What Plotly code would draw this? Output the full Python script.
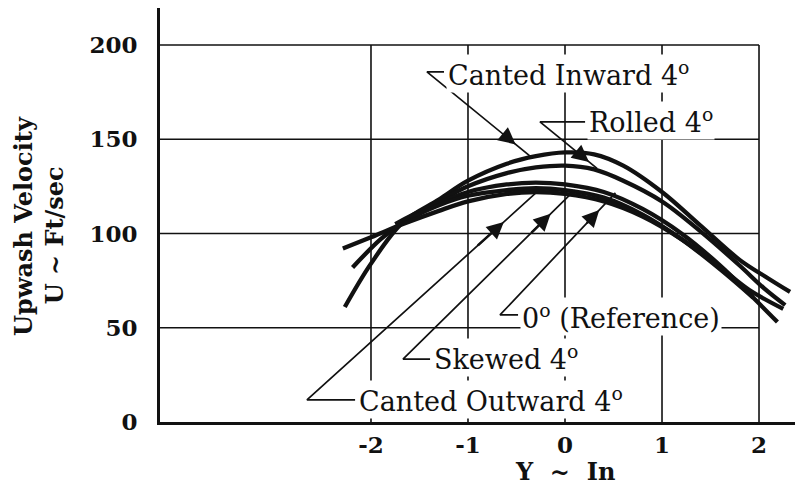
import plotly.graph_objects as go

# Spanwise position (in) and upwash velocity (ft/sec) for each configuration
y_inward = [-2.27, -2.0, -1.67, -1.3, -1.0, -0.6, -0.3, 0.0, 0.3, 0.6, 1.0, 1.4, 1.8, 2.1, 2.32]
u_inward = [61, 84, 106, 118, 128, 137, 141, 143, 142, 136, 122, 104, 86, 76, 69]

y_rolled = [-2.19, -1.9, -1.67, -1.3, -1.0, -0.6, -0.3, 0.0, 0.3, 0.6, 1.0, 1.4, 1.8, 2.05, 2.27]
u_rolled = [82, 97, 106, 117, 125, 132, 135, 136, 134, 128, 117, 101, 83, 71, 62]

y_ref = [-1.75, -1.4, -1.0, -0.6, -0.3, 0.0, 0.4, 0.8, 1.2, 1.6, 1.9, 2.19]
u_ref = [105, 114, 122, 126, 127, 126, 122, 113, 100, 83, 68, 53]

y_skewed = [-1.6, -1.3, -1.0, -0.6, -0.3, 0.0, 0.4, 0.8, 1.2, 1.6, 1.94]
u_skewed = [108, 115, 120, 123, 124, 123, 119, 110, 97, 81, 66]

y_outward = [-2.29, -2.0, -1.67, -1.3, -1.0, -0.6, -0.3, 0.0, 0.4, 0.8, 1.2, 1.6, 1.9, 2.25]
u_outward = [92, 98, 105, 112, 117, 121, 122, 121, 117, 109, 97, 82, 70, 60]

x_ticks = [-2, -1, 0, 1, 2]
x_tick_labels = ["-2", "-1", "0", "1", "2"]
y_ticks = [0, 50, 100, 150, 200]
y_tick_labels = ["0", "50", "100", "150", "200"]

X_RANGE = [-4.175, 2.371]
Y_RANGE = [0, 219.6]

INK = "#111111"
SERIF = "DejaVu Serif"
NB = "\u00a0"

fig = go.Figure()

curves = [
    ("Canted Inward 4°", y_inward, u_inward),
    ("Rolled 4°", y_rolled, u_rolled),
    ("0° (Reference)", y_ref, u_ref),
    ("Skewed 4°", y_skewed, u_skewed),
    ("Canted Outward 4°", y_outward, u_outward),
]
for name, xs, us in curves:
    fig.add_trace(go.Scatter(
        x=xs, y=us, name=name, mode="lines",
        line=dict(color=INK, width=4.3, shape="spline", smoothing=1.0),
        hoverinfo="skip",
    ))

# Grid box: horizontal lines stop at Y = 2, vertical lines stop at U = 200
shapes = []
for v in y_ticks[1:]:
    shapes.append(dict(type="line", xref="x", yref="y", x0=X_RANGE[0], x1=x_ticks[-1],
                       y0=v, y1=v, line=dict(color=INK, width=1.6), layer="below"))
for xv in x_ticks:
    shapes.append(dict(type="line", xref="x", yref="y", x0=xv, x1=xv,
                       y0=0, y1=y_ticks[-1], line=dict(color=INK, width=1.6), layer="below"))

# Callouts: label anchor, leader corner, point on the curve
callouts = [
    dict(text="Canted Inward 4<sup>o</sup>", tx=-1.227, ty=185.1, corner=(-1.423, 185.7), tip=(-0.36, 141.0)),
    dict(text="Rolled 4<sup>o</sup>", tx=0.227, ty=159.7, corner=(-0.258, 159.2), tip=(0.33, 134.5)),
    dict(text="0<sup>o</sup>" + NB + "(Reference)", tx=-0.464, ty=56.2, corner=(-0.67, 56.8), tip=(0.52, 121.5)),
    dict(text="Skewed 4<sup>o</sup>", tx=-1.371, ty=34.0, corner=(-1.67, 33.4), tip=(0.1, 123.0)),
    dict(text="Canted Outward 4<sup>o</sup>", tx=-2.144, ty=11.7, corner=(-2.66, 11.7), tip=(-0.30, 121.5)),
]

annotations = []
for c in callouts:
    cx, cy = c["corner"]
    px, py = c["tip"]
    # leader: short stub from the label, then diagonal to the curve
    fig.add_trace(go.Scatter(
        x=[c["tx"] - 0.02, cx, px], y=[cy, cy, py], mode="lines",
        line=dict(color=INK, width=1.7), hoverinfo="skip", showlegend=False,
    ))
    f = 0.86
    hx, hy = cx + f * (px - cx), cy + f * (py - cy)
    bx, by = cx + (f - 0.12) * (px - cx), cy + (f - 0.12) * (py - cy)
    annotations.append(dict(
        x=hx, y=hy, ax=bx, ay=by, xref="x", yref="y", axref="x", ayref="y",
        text="", showarrow=True, arrowhead=2, arrowsize=1.3, arrowwidth=2.6,
        arrowcolor=INK,
    ))
    annotations.append(dict(
        x=c["tx"], y=c["ty"], xref="x", yref="y", xanchor="left", yanchor="middle",
        text=c["text"], showarrow=False, bgcolor="white", borderpad=1,
        font=dict(family=SERIF, size=27, color=INK),
    ))

# Axis titles
annotations.append(dict(
    x=0.0, y=(422 - 471) / 414, xref="x", yref="paper",
    xanchor="center", yanchor="middle",
    text="Y" + NB + NB + "~" + NB + NB + "In", showarrow=False,
    font=dict(family=SERIF, size=24, color=INK, weight="bold"),
))
annotations.append(dict(
    x=(24 - 160) / 635, y=104, xref="paper", yref="y",
    xanchor="center", yanchor="middle", text="Upwash Velocity",
    textangle=-90, showarrow=False,
    font=dict(family=SERIF, size=24, color=INK, weight="bold"),
))
annotations.append(dict(
    x=(54 - 160) / 635, y=99, xref="paper", yref="y",
    xanchor="center", yanchor="middle", text="U ~ Ft/sec",
    textangle=-90, showarrow=False,
    font=dict(family=SERIF, size=24, color=INK, weight="bold"),
))

fig.update_layout(
    width=806, height=487,
    margin=dict(l=160, r=11, t=8, b=65),
    plot_bgcolor="white", paper_bgcolor="white",
    showlegend=False,
    shapes=shapes, annotations=annotations,
    xaxis=dict(
        range=X_RANGE, showgrid=False, zeroline=False,
        showline=True, linewidth=3, linecolor=INK,
        tickvals=x_ticks, ticktext=x_tick_labels, ticks="",
        ticklabelstandoff=0,
        tickfont=dict(family=SERIF, size=23, color=INK, weight="bold"),
    ),
    yaxis=dict(
        range=Y_RANGE, showgrid=False, zeroline=False,
        showline=True, linewidth=3, linecolor=INK,
        tickvals=y_ticks, ticktext=y_tick_labels, ticks="",
        ticklabelstandoff=15,
        tickfont=dict(family=SERIF, size=23, color=INK, weight="bold"),
    ),
)

fig.write_html("out.html")
